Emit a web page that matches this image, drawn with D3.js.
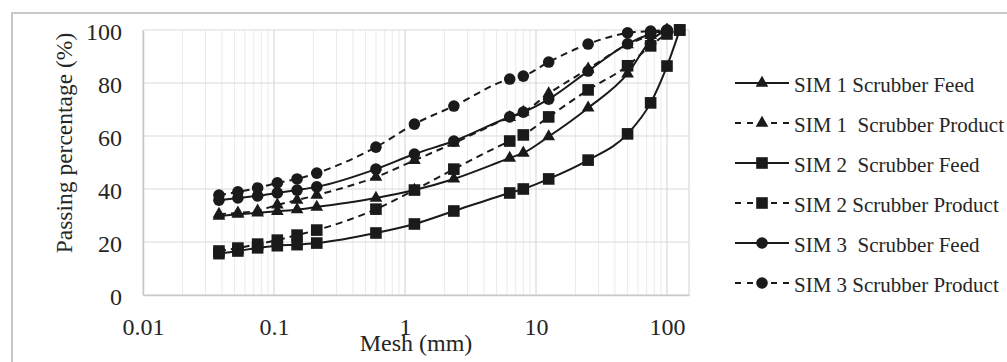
<!DOCTYPE html>
<html>
<head>
<meta charset="utf-8">
<script src="https://cdn.jsdelivr.net/npm/d3@7"></script>
<style>
  body { margin: 0; background: #fff; }
  svg text { font-family: "Liberation Serif", "DejaVu Serif", serif !important; fill: #262626; white-space: pre; }
</style>
</head>
<body>
<svg id="chart" width="1007" height="362" font-family="Liberation Serif"></svg>
<script>
// sieve sizes (mm)
const mesh = [0.038, 0.053, 0.075, 0.106, 0.15, 0.212, 0.6, 1.18, 2.36, 6.3, 8, 12.5, 25, 50, 75, 100, 125];

// passing % per series
const sim1Feed    = [29.8, 30.5, 31.0, 31.6, 32.2, 33.2, 36.6, 39.6, 43.8, 51.7, 53.6, 59.8, 70.6, 83.5, 96.0, 100];
const sim1Product = [30.5, 31.0, 31.8, 34.0, 35.8, 37.7, 44.5, 50.8, 57.3, 67.0, 69.0, 76.0, 85.3, 94.5, 98.0, 100];
const sim2Feed    = [15.6, 16.6, 17.8, 18.6, 19.0, 19.6, 23.4, 26.8, 31.7, 38.5, 40.0, 43.8, 50.9, 60.8, 72.5, 86.4, 100];
const sim2Product = [16.6, 17.7, 19.2, 20.7, 22.6, 24.5, 32.4, 39.6, 47.5, 58.1, 60.4, 67.2, 77.4, 86.5, 94.0, 98.5, 100];
const sim3Feed    = [35.8, 36.6, 37.4, 38.5, 39.6, 40.8, 47.5, 53.2, 58.1, 67.2, 69.0, 73.9, 84.5, 94.8, 98.5, 100];
const sim3Product = [37.7, 38.9, 40.4, 42.3, 43.8, 46.0, 55.8, 64.5, 71.3, 81.5, 82.6, 87.9, 94.7, 98.9, 99.6, 100];

const seriesNames = ["SIM 1 Scrubber Feed", "SIM 1  Scrubber Product", "SIM 2  Scrubber Feed",
                     "SIM 2 Scrubber Product", "SIM 3  Scrubber Feed", "SIM 3 Scrubber Product"];
const seriesValues = [sim1Feed, sim1Product, sim2Feed, sim2Product, sim3Feed, sim3Product];
const seriesMarker = ["triangle", "triangle", "square", "square", "circle", "circle"];
const seriesDashed = [false, true, false, true, false, true];

const xTicks = [0.01, 0.1, 1, 10, 100];
const yTicks = [0, 20, 40, 60, 80, 100];

const svg = d3.select("svg#chart");

// outer chart frame (runs off the image on right/bottom)
svg.append("rect")
    .attr("x", 12).attr("y", 13)
    .attr("width", 1020).attr("height", 380)
    .attr("fill", "none").attr("stroke", "#c8c8c8").attr("stroke-width", 2);

const xScale = d3.scaleLog().domain([0.01, Math.pow(10, 2 + 22 / 131)]).range([143, 689]);
const yScale = d3.scaleLinear().domain([0, 100]).range([295, 30]);

// minor log grid
const minor = [];
for (let d = -2; d <= 2; d++) {
    for (let k = 2; k <= 9; k++) {
        const v = k * Math.pow(10, d);
        if (v < xScale.domain()[1]) minor.push(v);
    }
}
const grid = svg.append("g");
grid.selectAll(".minor")
    .data(minor)
    .enter()
    .append("line")
    .attr("x1", d => xScale(d)).attr("x2", d => xScale(d))
    .attr("y1", yScale(0)).attr("y2", yScale(100))
    .attr("stroke", "#ebebeb").attr("stroke-width", 1);

grid.selectAll(".vmajor")
    .data(xTicks)
    .enter()
    .append("line")
    .attr("x1", d => xScale(d)).attr("x2", d => xScale(d))
    .attr("y1", yScale(0)).attr("y2", yScale(100))
    .attr("stroke", "#d9d9d9").attr("stroke-width", 1.2);

grid.selectAll(".hmajor")
    .data(yTicks)
    .enter()
    .append("line")
    .attr("x1", xScale.range()[0]).attr("x2", xScale.range()[1])
    .attr("y1", d => yScale(d)).attr("y2", d => yScale(d))
    .attr("stroke", "#d9d9d9").attr("stroke-width", 1.2);

grid.append("line")
    .attr("x1", xScale.range()[1]).attr("x2", xScale.range()[1])
    .attr("y1", yScale(0)).attr("y2", yScale(100))
    .attr("stroke", "#d9d9d9").attr("stroke-width", 1.2);

// axes
const xAxis = svg.append("g")
    .attr("transform", `translate(0,${yScale(0)})`)
    .call(d3.axisBottom(xScale).tickValues(xTicks).tickFormat(d => String(d)).tickSize(0).tickPadding(23));
const yAxis = svg.append("g")
    .attr("transform", `translate(${xScale.range()[0]},2)`)
    .call(d3.axisLeft(yScale).tickValues(yTicks).tickSize(0).tickPadding(21));
xAxis.select(".domain").attr("stroke", "#c8c8c8").attr("stroke-width", 1.5);
yAxis.select(".domain").attr("stroke", "#c8c8c8").attr("stroke-width", 1.5).attr("transform", "translate(0,-2)");
[xAxis, yAxis].forEach(a => {
    a.attr("font-family", null).attr("font-size", null);
    a.selectAll("text").style("font-size", "24px");
});

svg.append("text")
    .attr("x", 416).attr("y", 351)
    .attr("text-anchor", "middle")
    .style("font-size", "24px")
    .text("Mesh (mm)");

svg.append("text")
    .attr("transform", "translate(72,143) rotate(-90)")
    .attr("text-anchor", "middle")
    .style("font-size", "23.5px")
    .text("Passing percentage (%)");

// markers
function drawMarker(g, type, x, y) {
    if (type === "circle") {
        g.append("circle").attr("cx", x).attr("cy", y).attr("r", 5.8).attr("fill", "#1a1a1a");
    } else if (type === "square") {
        g.append("rect").attr("x", x - 5.8).attr("y", y - 5.8).attr("width", 11.6).attr("height", 11.6).attr("fill", "#1a1a1a");
    } else {
        g.append("path").attr("d", d3.symbol(d3.symbolTriangle, 70)()).attr("transform", `translate(${x},${y})`).attr("fill", "#1a1a1a");
    }
}

const line = d3.line()
    .x(d => xScale(d[0]))
    .y(d => yScale(d[1]))
    .curve(d3.curveMonotoneX);

const plot = svg.append("g");
seriesValues.forEach((vals, i) => {
    const pts = vals.map((v, j) => [mesh[j], v]);
    plot.append("path")
        .datum(pts)
        .attr("d", line)
        .attr("fill", "none")
        .attr("stroke", "#1a1a1a")
        .attr("stroke-width", 2)
        .attr("stroke-dasharray", seriesDashed[i] ? "7,5" : null);
});
seriesValues.forEach((vals, i) => {
    const g = plot.append("g");
    vals.forEach((v, j) => drawMarker(g, seriesMarker[i], xScale(mesh[j]), yScale(v)));
});

// legend
const legend = svg.append("g");
seriesNames.forEach((name, i) => {
    const y = 83 + i * 40;
    legend.append("line")
        .attr("x1", 735).attr("x2", 789).attr("y1", y).attr("y2", y)
        .attr("stroke", "#1a1a1a").attr("stroke-width", 2)
        .attr("stroke-dasharray", seriesDashed[i] ? "6,6" : null);
    drawMarker(legend, seriesMarker[i], 762, y);
    legend.append("text")
        .attr("x", 794).attr("y", y + 9)
        .attr("xml:space", "preserve")
        .style("font-size", "21px")
        .text(name);
});
</script>
</body>
</html>
